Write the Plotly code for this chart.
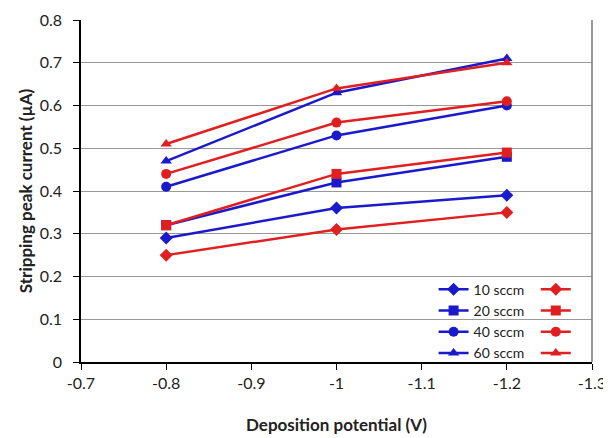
import plotly.graph_objects as go

potential = [-0.8, -1.0, -1.2]
flows = ["10 sccm", "20 sccm", "40 sccm", "60 sccm"]
symbols = ["diamond", "square", "circle", "triangle-up"]
blue_vals = [
    [0.29, 0.36, 0.39],
    [0.32, 0.42, 0.48],
    [0.41, 0.53, 0.60],
    [0.47, 0.63, 0.71],
]
red_vals = [
    [0.25, 0.31, 0.35],
    [0.32, 0.44, 0.49],
    [0.44, 0.56, 0.61],
    [0.51, 0.64, 0.70],
]
x_ticks = [-0.7, -0.8, -0.9, -1.0, -1.1, -1.2, -1.3]
x_ticklabels = ["-0.7", "-0.8", "-0.9", "-1", "-1.1", "-1.2", "-1.3"]
y_ticks = [0, 0.1, 0.2, 0.3, 0.4, 0.5, 0.6, 0.7, 0.8]
y_ticklabels = ["0", "0.1", "0.2", "0.3", "0.4", "0.5", "0.6", "0.7", "0.8"]

BLUE = "#1a1acc"
RED = "#e02020"
FONT = "Lato"

fig = go.Figure()
for name, sym, vals in zip(flows, symbols, blue_vals):
    fig.add_trace(go.Scatter(
        x=potential, y=vals, name=name, mode="lines+markers",
        line=dict(color=BLUE, width=2.5),
        marker=dict(symbol=sym, size=10, color=BLUE),
        legend="legend",
    ))
for name, sym, vals in zip(flows, symbols, red_vals):
    fig.add_trace(go.Scatter(
        x=potential, y=vals, name=" ", mode="lines+markers",
        line=dict(color=RED, width=2.5),
        marker=dict(symbol=sym, size=10, color=RED),
        legend="legend2",
    ))

fig.update_layout(
    width=603, height=430,
    margin=dict(l=73, r=19, t=12, b=76),
    paper_bgcolor="white", plot_bgcolor="white",
    font=dict(family=FONT, size=16, color="#222"),
    xaxis=dict(
        range=[-0.7, -1.3], autorange=False, automargin=False,
        tickvals=x_ticks, ticktext=x_ticklabels,
        showgrid=False, zeroline=False,
        showline=True, linecolor="black", linewidth=1.5,
        ticks="outside", ticklen=6, tickcolor="black",
        title=dict(text="<b>Deposition potential (V)</b>", font=dict(size=17, family=FONT), standoff=28),
    ),
    yaxis=dict(
        range=[0, 0.8], automargin=False,
        tickvals=y_ticks, ticktext=y_ticklabels,
        showgrid=True, gridcolor="#999", gridwidth=1.2, zeroline=False,
        showline=True, linecolor="black", linewidth=1.5,
        ticks="outside", ticklen=6, tickcolor="black", ticklabelstandoff=8,
        title=dict(text="<b>Stripping peak current (µA)</b>", font=dict(size=17, family=FONT), standoff=3),
    ),
    legend=dict(
        x=0.69, y=0.258, xanchor="left", yanchor="top",
        bgcolor="rgba(255,255,255,0)", font=dict(size=14, family=FONT),
        tracegroupgap=0, itemwidth=30,
    ),
    legend2=dict(
        x=0.89, y=0.258, xanchor="left", yanchor="top",
        bgcolor="rgba(255,255,255,0)", font=dict(size=14, family=FONT),
        tracegroupgap=0, itemwidth=30,
    ),
    showlegend=True,
)
fig.add_shape(type="line", xref="x domain", yref="y domain", x0=1, x1=1, y0=0, y1=1,
              line=dict(color="#777", width=1.5))

fig.write_html("out.html")
